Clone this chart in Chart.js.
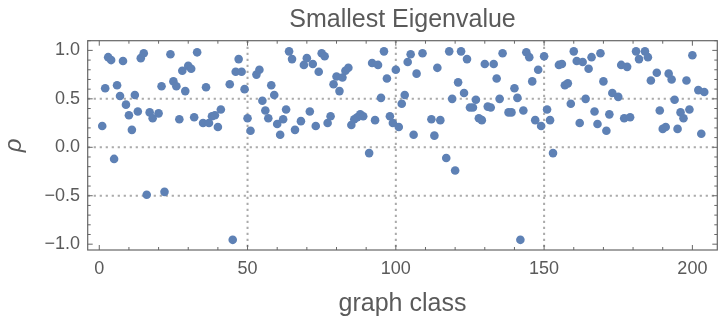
<!DOCTYPE html>
<html><head><meta charset="utf-8">
<script src="https://cdn.jsdelivr.net/npm/chart.js@4.4.1/dist/chart.umd.min.js"></script>
<style>html,body{margin:0;padding:0;background:#fff;} #wrap{width:726px;height:328px;}</style>
</head><body><div id="wrap"><canvas id="c" width="726" height="328"></canvas></div>
<script>
const graphClass = [1,2,3,4,5,6,7,8,9,10,11,12,13,14,15,16,17,18,20,21,22,24,25,26,27,28,29,30,31,32,33,35,36,37,38,39,40,41,44,45,46,47,48,49,50,51,53,54,55,56,57,58,59,60,61,62,63,64,65,66,68,69,70,71,72,73,74,75,76,77,78,79,80,81,82,83,84,85,86,87,88,89,91,92,93,94,95,96,97,98,99,100,101,102,103,104,105,106,107,109,112,113,114,115,117,118,119,120,121,122,123,124,125,126,127,128,129,130,131,132,133,134,135,136,138,139,140,141,142,143,144,145,146,147,148,149,150,151,152,153,155,156,157,158,159,160,161,162,163,164,165,166,167,168,169,170,171,172,173,175,176,177,178,179,181,182,184,185,186,188,189,190,191,192,193,194,195,196,197,198,199,200,202,203,204];
const smallestEigenvalue = [0.22,0.61,0.93,0.90,-0.12,0.64,0.53,0.89,0.44,0.33,0.18,0.54,0.37,0.92,0.97,-0.49,0.36,0.30,0.35,0.63,-0.46,0.96,0.68,0.63,0.29,0.79,0.58,0.84,0.81,0.31,0.98,0.25,0.62,0.25,0.32,0.33,0.21,0.39,0.65,-0.955,0.78,0.91,0.78,0.60,0.30,0.17,0.75,0.80,0.48,0.38,0.30,0.64,0.54,0.24,0.13,0.29,0.39,0.99,0.91,0.18,0.27,0.85,0.92,0.37,0.86,0.22,0.78,0.97,0.94,0.25,0.32,0.65,0.73,0.58,0.72,0.79,0.82,0.23,0.29,0.31,0.34,0.32,-0.06,0.87,0.28,0.85,0.51,0.99,0.71,0.32,0.25,0.80,0.21,0.45,0.54,0.88,0.96,0.13,0.76,0.97,0.29,0.12,0.82,0.28,-0.11,0.99,0.50,-0.24,0.67,0.99,0.56,0.91,0.41,0.41,0.49,0.30,0.28,0.86,0.42,0.41,0.86,0.71,0.50,0.97,0.36,0.36,0.61,0.51,-0.955,0.38,0.98,0.93,0.68,0.28,0.80,0.22,0.94,0.39,0.28,-0.06,0.85,0.86,0.64,0.66,0.45,0.99,0.89,0.25,0.88,0.50,0.81,0.93,0.37,0.24,0.97,0.68,0.17,0.34,0.56,0.52,0.85,0.30,0.83,0.31,0.99,0.91,0.99,0.93,0.69,0.77,0.38,0.19,0.21,0.76,0.70,0.49,0.19,0.36,0.30,0.69,0.39,0.95,0.59,0.14,0.57];
const xTickValues = [0,50,100,150,200];
const yTickValues = [-1,-0.5,0,0.5,1];
const xGridValues = [50,100,150];
const yGridValues = [-0.5,0,0.5];
const xMinorStep = 10;
const yMinorStep = 0.1;
const chartTitle = 'Smallest Eigenvalue';
const xAxisTitle = 'graph class';
const yAxisTitle = 'ρ';

Chart.defaults.font.family = "'Liberation Sans', Arial, Helvetica, sans-serif";
const textColor = '#5a5a5a';

const framePlugin = {
  id: 'frame',
  beforeDatasetsDraw(chart) {
    const {ctx, chartArea: a, scales: {x, y}} = chart;
    ctx.save();
    ctx.strokeStyle = '#ababab';
    ctx.lineWidth = 2;
    ctx.setLineDash([2.2, 3.8]);
    xGridValues.forEach(v => {
      const px = x.getPixelForValue(v);
      ctx.beginPath(); ctx.moveTo(px, a.top); ctx.lineTo(px, a.bottom); ctx.stroke();
    });
    yGridValues.forEach(v => {
      const py = y.getPixelForValue(v);
      ctx.beginPath(); ctx.moveTo(a.left, py); ctx.lineTo(a.right, py); ctx.stroke();
    });
    ctx.restore();
  },
  afterDatasetsDraw(chart) {
    const {ctx, chartArea: a, scales: {x, y}} = chart;
    ctx.save();
    ctx.strokeStyle = '#666666';
    ctx.lineWidth = 1.2;
    ctx.strokeRect(a.left, a.top, a.right - a.left, a.bottom - a.top);
    ctx.lineWidth = 1;
    const xMin = x.min, xMax = x.max, yMin = y.min, yMax = y.max;
    for (let v = Math.ceil(xMin / xMinorStep) * xMinorStep; v <= xMax; v += xMinorStep) {
      const px = x.getPixelForValue(v);
      const len = (Math.abs(v % 50) < 1e-9) ? 5 : 3;
      ctx.beginPath();
      ctx.moveTo(px, a.bottom); ctx.lineTo(px, a.bottom - len);
      ctx.moveTo(px, a.top); ctx.lineTo(px, a.top + len);
      ctx.stroke();
    }
    for (let i = Math.ceil(yMin / yMinorStep - 1e-9); i * yMinorStep <= yMax + 1e-9; i++) {
      const v = i * yMinorStep;
      const py = y.getPixelForValue(v);
      const len = (i % 5 === 0) ? 5 : 3;
      ctx.beginPath();
      ctx.moveTo(a.left, py); ctx.lineTo(a.left + len, py);
      ctx.moveTo(a.right, py); ctx.lineTo(a.right - len, py);
      ctx.stroke();
    }
    ctx.restore();
  }
};

new Chart(document.getElementById('c'), {
  type: 'scatter',
  data: {
    datasets: [{
      data: graphClass.map((g, i) => ({x: g, y: smallestEigenvalue[i]})),
      backgroundColor: '#5e81b5',
      borderWidth: 0,
      pointRadius: 4.3,
      pointHoverRadius: 4.3
    }]
  },
  options: {
    responsive: false,
    animation: false,
    devicePixelRatio: 1,
    layout: {padding: {left: 0, right: 8.7, top: 0, bottom: 0}},
    plugins: {
      legend: {display: false},
      tooltip: {enabled: false},
      title: {
        display: true, text: chartTitle, color: textColor, fullSize: false,
        font: {size: 25, weight: 'normal'},
        padding: {top: 5.6, bottom: 5.1}
      }
    },
    scales: {
      x: {
        type: 'linear', min: -3.9, max: 208.4,
        grid: {display: false, drawTicks: false},
        border: {display: false},
        afterBuildTicks: s => { s.ticks = xTickValues.map(v => ({value: v})); },
        afterFit: s => { s.height = 78; },
        ticks: {color: textColor, font: {size: 18}, padding: 8, callback: v => String(v)},
        title: {display: true, text: xAxisTitle, color: textColor, font: {size: 25}, padding: {top: 0, bottom: 8.4}}
      },
      y: {
        type: 'linear', min: -1.06, max: 1.1,
        grid: {display: false, drawTicks: false},
        border: {display: false},
        afterBuildTicks: s => { s.ticks = yTickValues.map(v => ({value: v})); },
        afterFit: s => { s.width = 87.7; },
        ticks: {color: textColor, font: {size: 18}, padding: 7.7,
          callback: v => (v < 0 ? '\u2212' : '') + Math.abs(v).toFixed(1)},
        title: {display: true, text: yAxisTitle, color: textColor, font: {size: 24, style: 'italic'}, padding: {top: 0, bottom: 0}}
      }
    }
  },
  plugins: [framePlugin]
});
</script>
</body></html>
